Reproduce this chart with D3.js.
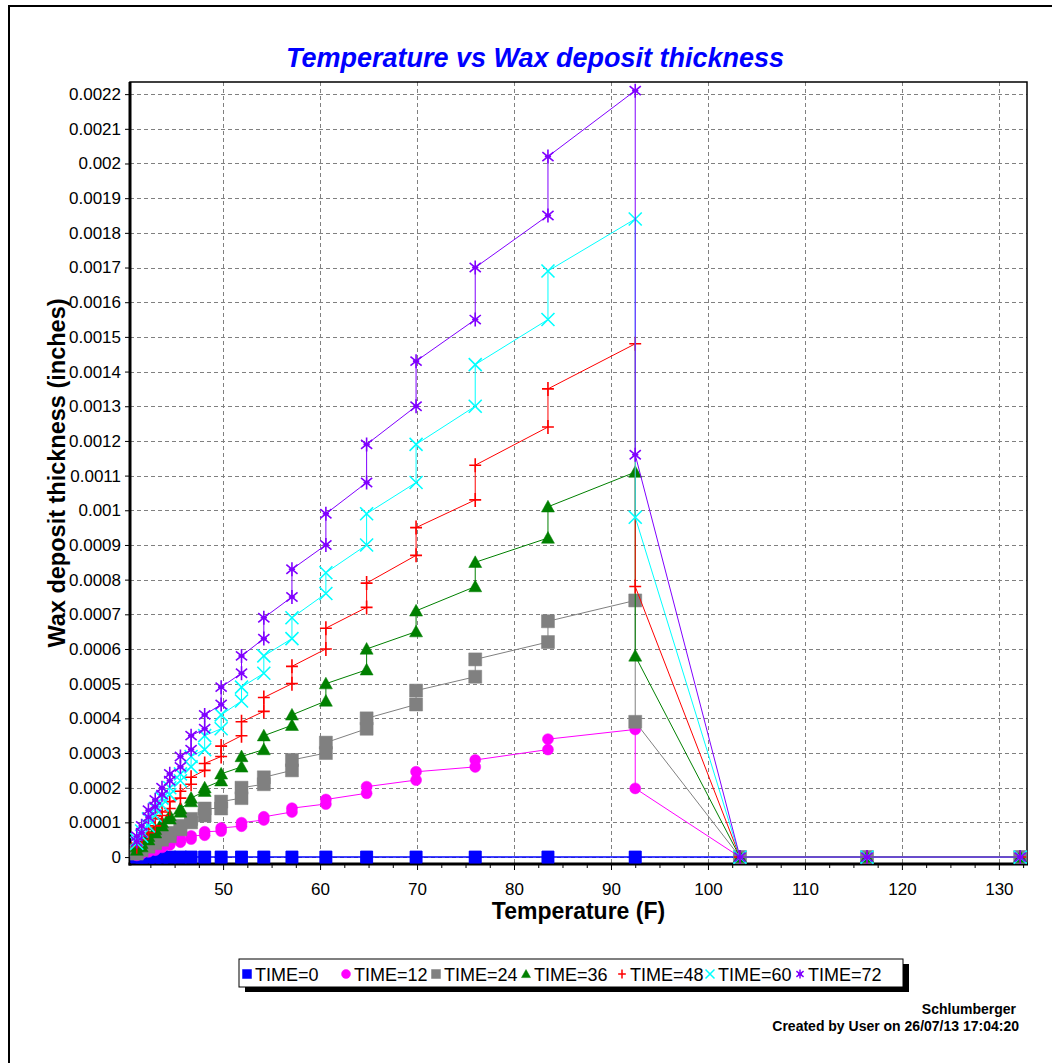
<!DOCTYPE html>
<html><head><meta charset="utf-8">
<script src="https://cdn.jsdelivr.net/npm/d3@7"></script>
<style>
body{margin:0;background:#fff}
svg{display:block}
text{font-family:"Liberation Sans",Arial,Helvetica,sans-serif}
</style>
</head><body>
<svg id="c" width="1052" height="1063"></svg>
<script>
// ---------------- DATA ----------------
const temperature = [41.1,41.1,41.6,41.6,42.3,42.3,43.0,43.0,43.7,43.7,44.5,44.5,45.6,45.6,46.7,46.7,48.1,48.1,
  49.8,49.8,51.9,51.9,54.2,54.2,57.1,57.1,60.6,60.6,64.8,64.8,69.9,69.9,76.0,76.0,83.5,83.5,92.5,92.5,103.3,116.4,132.2];

const time0  = [0,0,0,0,0,0,0,0,0,0,0,0,0,0,0,0,0,0,0,0,0,0,0,0,0,0,0,0,0,0,0,0,0,0,0,0,0,0,0,0,0];
const time12 = [0.000005,0.000008,0.00001,0.000012,0.000015,0.00002,0.00002,0.000025,0.000028,0.000033,0.000035,0.00004,
  0.000043,0.000052,0.000052,0.000061,0.000063,0.000073,0.000075,0.000084,0.000089,0.000099,0.000107,0.000116,
  0.00013,0.000141,0.000153,0.000166,0.000184,0.000203,0.000222,0.000246,0.00026,0.00028,0.00031,0.00034,0.000368,0.000198,0,0,0];
const time24 = [0.00001,0.00002,0.00002,0.00003,0.00003,0.00004,0.00004,0.00005,0.00005,0.00006,0.00006,0.00007,
  0.00008,0.00009,0.0001,0.00011,0.00012,0.00014,0.00014,0.00016,0.00017,0.0002,0.00021,0.00023,
  0.00025,0.00028,0.0003,0.00033,0.00037,0.0004,0.00044,0.00048,0.00052,0.00057,0.00062,0.00068,0.00074,0.00039,0,0,0];
const time36 = [0.00002,0.00003,0.00003,0.00004,0.00005,0.00006,0.00007,0.00008,0.00009,0.0001,0.00011,0.00012,
  0.00013,0.00014,0.00016,0.00017,0.00019,0.0002,0.00022,0.00024,0.00026,0.00029,0.00031,0.00035,
  0.00038,0.00041,0.00045,0.0005,0.00054,0.0006,0.00065,0.00071,0.00078,0.00085,0.00092,0.00101,0.00111,0.00058,0,0,0];
const time48 = [0.00003,0.00004,0.00005,0.00006,0.00007,0.00008,0.00009,0.00011,0.00012,0.00013,0.00014,0.00016,
  0.00017,0.00019,0.00021,0.00023,0.00025,0.00027,0.00029,0.00032,0.00035,0.00039,0.00042,0.00046,
  0.0005,0.00055,0.0006,0.00066,0.00072,0.00079,0.00087,0.00095,0.00103,0.00113,0.00124,0.00135,0.00148,0.00078,0,0,0];
const time60 = [0.00004,0.00005,0.00006,0.000075,0.00009,0.00011,0.00012,0.00014,0.00015,0.00017,0.00018,0.0002,
  0.00022,0.00024,0.00026,0.00029,0.00031,0.00035,0.00037,0.00041,0.00045,0.00049,0.00053,0.00058,
  0.00063,0.00069,0.00076,0.00082,0.0009,0.00099,0.00108,0.00119,0.0013,0.00142,0.00155,0.00169,0.00184,0.00098,0,0,0];
const time72 = [0.000045,0.00006,0.00007,0.00009,0.000115,0.000135,0.000145,0.000165,0.00018,0.0002,0.00022,0.00024,
  0.00026,0.00029,0.00031,0.00035,0.00037,0.00041,0.00044,0.00049,0.00053,0.00058,0.00063,0.00069,
  0.00075,0.00083,0.0009,0.00099,0.00108,0.00119,0.0013,0.00143,0.00155,0.0017,0.00185,0.00202,0.00221,0.00116,0,0,0];

const seriesLabels = ["TIME=0","TIME=12","TIME=24","TIME=36","TIME=48","TIME=60","TIME=72"];
const seriesValues = [time0,time12,time24,time36,time48,time60,time72];

const xTickValues = [50,60,70,80,90,100,110,120,130];
const xTickLabels = ["50","60","70","80","90","100","110","120","130"];
const xMinorTicks = [42.5,45,47.5,52.5,55,57.5,62.5,65,67.5,72.5,75,77.5,82.5,85,87.5,92.5,95,97.5,102.5,105,107.5,112.5,115,117.5,122.5,125,127.5,132.5];
const yTickValues = [0,0.0001,0.0002,0.0003,0.0004,0.0005,0.0006,0.0007,0.0008,0.0009,0.001,0.0011,
  0.0012,0.0013,0.0014,0.0015,0.0016,0.0017,0.0018,0.0019,0.002,0.0021,0.0022];
const yTickLabels = ["0","0.0001","0.0002","0.0003","0.0004","0.0005","0.0006","0.0007","0.0008","0.0009","0.001","0.0011",
  "0.0012","0.0013","0.0014","0.0015","0.0016","0.0017","0.0018","0.0019","0.002","0.0021","0.0022"];

// ---------------- STYLE ----------------
const styles = [
  {color:"#0000FF", shape:"square",   size:6,   lw:1.5},
  {color:"#FF00FF", shape:"circle",   size:5.5, lw:1},
  {color:"#808080", shape:"square",   size:6.5, lw:1},
  {color:"#008000", shape:"triangle", size:6.5, lw:1},
  {color:"#FF0000", shape:"plus",     size:7,   lw:1},
  {color:"#00FFFF", shape:"x",        size:6.5, lw:1},
  {color:"#8000FF", shape:"star",     size:7,   lw:1}
];
function shapePath(shape, h){
  switch(shape){
    case "square": return `M${-h},${-h}h${2*h}v${2*h}h${-2*h}Z`;
    case "circle": return d3.symbol(d3.symbolCircle, Math.PI*h*h)();
    case "triangle": return `M0,${-h}L${h},${h*0.8}L${-h},${h*0.8}Z`;
    case "plus": return `M${-h*0.85},0H${h*0.85}M0,${-h}V${h}`;
    case "x": return `M${-h},${-h}L${h},${h}M${-h},${h}L${h},${-h}`;
    case "star": return `M0,${-h}V${h}M${-h*0.8},${-h*0.65}L${h*0.8},${h*0.65}M${-h*0.8},${h*0.65}L${h*0.8},${-h*0.65}M${-h*0.45},0H${h*0.45}`;
  }
}
const filled = s => s==="square"||s==="circle"||s==="triangle";

// ---------------- LAYOUT ----------------
const L=130, R=1027, T=82, B=864;
const svg = d3.select("#c");
svg.append("rect").attr("width",1052).attr("height",1063).attr("fill","#fff");
svg.append("rect").attr("x",9).attr("y",6).attr("width",1100).attr("height",1100)
  .attr("fill","none").attr("stroke","#000").attr("stroke-width",2);

const x = d3.scaleLinear().domain([40.4,132.9]).range([L,R]);
const y = d3.scaleLinear().domain([-0.00002,0.002235]).range([B,T]);

// title
svg.append("text").attr("x",535).attr("y",67).attr("text-anchor","middle")
  .style("font-size","27px").style("font-weight","bold").style("font-style","italic")
  .attr("fill","#0000FF").text("Temperature vs Wax deposit thickness");

// grid
const grid = svg.append("g").attr("stroke","#808080").attr("stroke-width",1).attr("stroke-dasharray","4,3");
grid.selectAll("line.v").data(xTickValues).join("line").attr("class","v")
  .attr("x1",d=>Math.round(x(d))+0.5).attr("x2",d=>Math.round(x(d))+0.5).attr("y1",T).attr("y2",B);
grid.selectAll("line.h").data(yTickValues).join("line").attr("class","h")
  .attr("y1",d=>Math.round(y(d))+0.5).attr("y2",d=>Math.round(y(d))+0.5).attr("x1",L).attr("x2",R);

// axes
const xAxis = svg.append("g").attr("transform",`translate(0,${B})`)
  .call(d3.axisBottom(x).tickValues(xTickValues).tickFormat((d,i)=>xTickLabels[i]).tickSize(6).tickPadding(6));
const xMinor = svg.append("g").attr("transform",`translate(0,${B})`)
  .call(d3.axisBottom(x).tickValues(xMinorTicks).tickFormat("").tickSize(4));
const yAxis = svg.append("g").attr("transform",`translate(${L},0)`)
  .call(d3.axisLeft(y).tickValues(yTickValues).tickFormat((d,i)=>yTickLabels[i]).tickSize(5).tickPadding(4));
[xAxis,xMinor,yAxis].forEach(g=>{g.select(".domain").remove(); g.selectAll("line").attr("stroke","#000");});
xAxis.selectAll("text").attr("y",31).attr("dy",0).style("font-size","17px").attr("fill","#000");
yAxis.selectAll("text").style("font-size","17px").attr("fill","#000");

// frame
svg.append("rect").attr("x",L).attr("y",T).attr("width",R-L).attr("height",B-T)
  .attr("fill","none").attr("stroke","#000").attr("stroke-width",1.5);
svg.append("line").attr("x1",L).attr("x2",L).attr("y1",T).attr("y2",B+1.5).attr("stroke","#000").attr("stroke-width",3);
svg.append("line").attr("x1",L-1.5).attr("x2",R+1).attr("y1",B).attr("y2",B).attr("stroke","#000").attr("stroke-width",3);

// axis titles
svg.append("text").attr("x",(L+R)/2).attr("y",919).attr("text-anchor","middle")
  .style("font-size","23px").style("font-weight","bold").text("Temperature (F)");
svg.append("text").attr("transform",`translate(65,${(T+B)/2}) rotate(-90)`).attr("text-anchor","middle")
  .style("font-size","23.5px").style("font-weight","bold").text("Wax deposit thickness (inches)");

// series
const line = d3.line().x((d,i)=>x(temperature[i])).y(d=>y(d));
seriesValues.forEach((vals,si)=>{
  const st = styles[si];
  const g = svg.append("g");
  g.append("path").datum(vals).attr("d",line).attr("fill","none").attr("stroke",st.color).attr("stroke-width",st.lw);
  g.selectAll("path.m").data(vals).join("path").attr("class","m")
    .attr("transform",(d,i)=>`translate(${x(temperature[i])},${y(d)})`)
    .attr("d",shapePath(st.shape,st.size))
    .attr("fill",filled(st.shape)?st.color:"none")
    .attr("stroke",st.color).attr("stroke-width",filled(st.shape)?0.5:1.6);
});

// legend
const legX=239, legY=959, legW=664, legH=28;
svg.append("rect").attr("x",legX+6).attr("y",legY+5).attr("width",legW).attr("height",legH).attr("fill","#000");
svg.append("rect").attr("x",legX).attr("y",legY).attr("width",legW).attr("height",legH)
  .attr("fill","#fff").attr("stroke","#000").attr("stroke-width",1);
const legTextX = [255,354,444,534,630,718,808];
seriesLabels.forEach((lab,si)=>{
  const st = styles[si];
  const tx = legTextX[si];
  svg.append("path").attr("transform",`translate(${tx-8},${legY+15})`)
    .attr("d",shapePath(st.shape, 4.5))
    .attr("fill",filled(st.shape)?st.color:"none")
    .attr("stroke",st.color).attr("stroke-width",filled(st.shape)?0.5:1.5);
  svg.append("text").attr("x",tx).attr("y",legY+22).style("font-size","18px").attr("fill","#000").text(lab);
});

// footer
svg.append("text").attr("x",1016).attr("y",1014).attr("text-anchor","end")
  .style("font-size","14px").style("font-weight","bold").text("Schlumberger");
svg.append("text").attr("x",1019).attr("y",1031).attr("text-anchor","end")
  .style("font-size","14px").style("font-weight","bold").text("Created by User on 26/07/13 17:04:20");
</script>
</body></html>
